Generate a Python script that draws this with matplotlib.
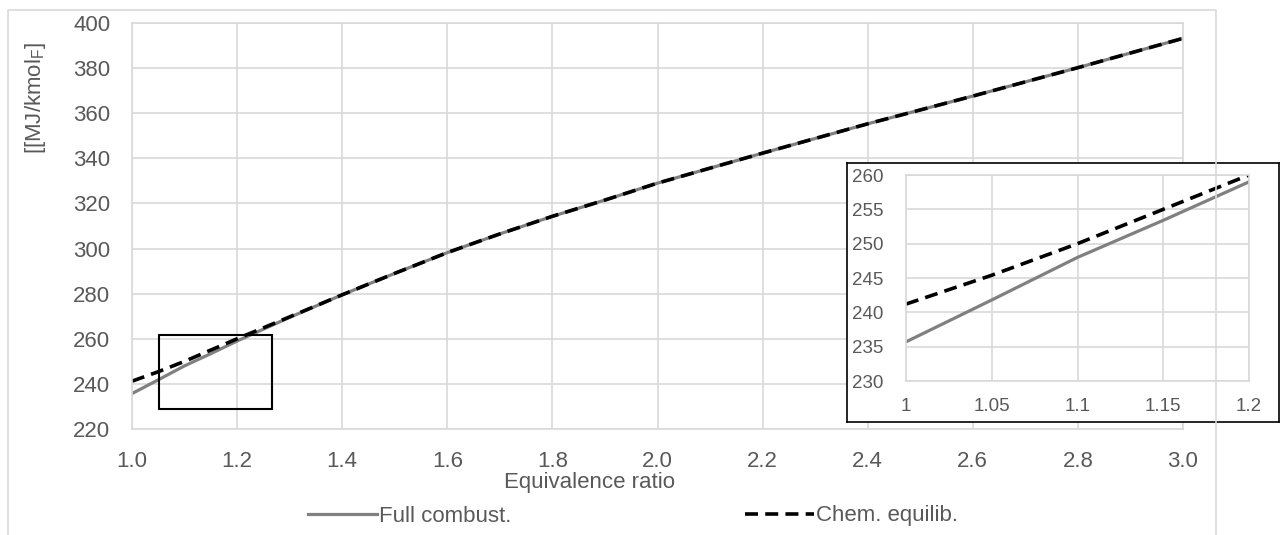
import matplotlib
matplotlib.use('Agg')
import matplotlib.pyplot as plt
from matplotlib.patches import Rectangle
from matplotlib.lines import Line2D

plt.rcParams['font.family'] = ['Liberation Sans', 'DejaVu Sans']
plt.rcParams['mathtext.fontset'] = 'custom'
plt.rcParams['mathtext.rm'] = 'Liberation Sans'

# data
phi = [1.0, 1.05, 1.1, 1.15, 1.2, 1.3, 1.4, 1.5, 1.6, 1.7, 1.8, 1.9, 2.0, 2.2, 2.4, 2.6, 2.8, 3.0]
full_combust = [235.7, 241.8, 248.0, 253.4, 259.0, 269.5, 279.5, 289.0, 298.2, 306.5, 314.3,
                321.5, 329.0, 342.3, 355.3, 367.6, 380.2, 393.2]
chem_equilib = [241.2, 245.4, 250.0, 255.0, 260.0, 269.7, 279.5, 289.0, 298.2, 306.5, 314.3,
                321.5, 329.0, 342.3, 355.3, 367.6, 380.2, 393.2]
main_xticks = [1.0, 1.2, 1.4, 1.6, 1.8, 2.0, 2.2, 2.4, 2.6, 2.8, 3.0]
main_yticks = [220, 240, 260, 280, 300, 320, 340, 360, 380, 400]
inset_xticks = [1.0, 1.05, 1.1, 1.15, 1.2]
inset_xlabels = ['1', '1.05', '1.1', '1.15', '1.2']
inset_yticks = [230, 235, 240, 245, 250, 255, 260]
zoom_box = (1.052, 229.0, 0.214, 32.7)  # x, y, width, height

grid_c = '#d9d9d9'
text_c = '#595959'
gray_c = '#808080'
fs = 16
fs_in = 13.5
W, H = 1282, 535


def fx(px):
    return px / W


def fy(py):
    return 1 - py / H


fig = plt.figure(figsize=(W / 100, H / 100), dpi=100)

# outer chart border (open at the bottom)
border_x = [8, 8, 1216, 1216]
border_y = [535, 10, 10, 535]
fig.add_artist(Line2D([fx(v) for v in border_x], [fy(v) for v in border_y],
                      color=grid_c, lw=1.2, transform=fig.transFigure))

ax = fig.add_axes([fx(132), fy(429), fx(1183 - 132), (429 - 23) / H])
l1, = ax.plot(phi, full_combust, color=gray_c, lw=2.3, label='Full combust.')
l2, = ax.plot(phi, chem_equilib, color='black', lw=2.6, dashes=(3.6, 2.0), label='Chem. equilib.')
ax.set_xlim(1.0, 3.0)
ax.set_ylim(220, 400)
ax.set_xticks(main_xticks)
ax.set_xticklabels([f'{v:.1f}' for v in main_xticks])
ax.set_yticks(main_yticks)
ax.grid(True, color=grid_c, lw=1.2)
ax.set_axisbelow(True)
for s in ax.spines.values():
    s.set_color(grid_c)
    s.set_linewidth(1.2)
ax.tick_params(length=0, labelsize=fs, colors=text_c)
ax.tick_params(axis='y', pad=15.5)
ax.tick_params(axis='x', pad=16)
ax.add_patch(Rectangle(zoom_box[:2], zoom_box[2], zoom_box[3], fill=False, ec='black', lw=1.5, zorder=5))

fig.text(fx(590), fy(488), 'Equivalence ratio', ha='center', va='baseline', fontsize=fs, color=text_c)
fig.text(fx(35), fy(98), r'[[MJ/kmol$_\mathregular{F}$]', rotation=90, ha='center', va='center',
         fontsize=fs, color=text_c)

fig.legend(handles=[l1, l2], loc='center left', bbox_to_anchor=(fx(308), fy(516)), ncol=2,
           frameon=False, borderpad=0, borderaxespad=0, fontsize=fs, labelcolor=text_c,
           handlelength=3.1, handletextpad=0.1, columnspacing=10.5)

# inset frame
box = fig.add_axes([fx(847), fy(422), fx(1279 - 847), (422 - 163) / H])
box.set_xticks([])
box.set_yticks([])
box.set_facecolor('white')
for s in box.spines.values():
    s.set_color('black')
    s.set_linewidth(1.2)

ins = fig.add_axes([fx(906), fy(381), fx(1249 - 906), (381 - 175) / H])
ins.plot(phi, full_combust, color=gray_c, lw=2.3)
ins.plot(phi, chem_equilib, color='black', lw=2.6, dashes=(3.6, 2.0))
ins.set_xlim(1.0, 1.2)
ins.set_ylim(230, 260)
ins.set_xticks(inset_xticks)
ins.set_xticklabels(inset_xlabels)
ins.set_yticks(inset_yticks)
ins.grid(True, color=grid_c, lw=1.2)
ins.set_axisbelow(True)
for s in ins.spines.values():
    s.set_color(grid_c)
    s.set_linewidth(1.2)
ins.tick_params(length=0, labelsize=fs_in, colors=text_c)
ins.tick_params(axis='y', pad=16.5)
ins.tick_params(axis='x', pad=12)

fig.savefig('out.png', dpi=100)
